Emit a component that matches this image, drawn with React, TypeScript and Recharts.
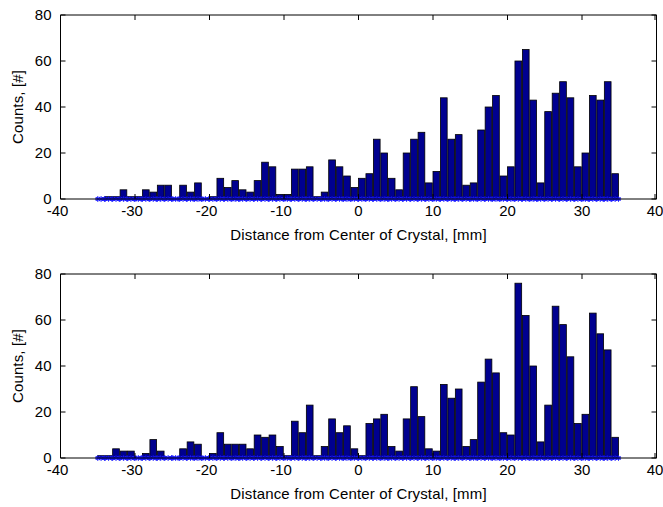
import { Bar, ComposedChart, ReferenceLine, XAxis, YAxis } from "recharts";

// bin centres, 1 mm bins from -35 to 35
const binCenters = [
  -34.5, -33.5, -32.5, -31.5, -30.5, -29.5, -28.5, -27.5, -26.5, -25.5,
  -24.5, -23.5, -22.5, -21.5, -20.5, -19.5, -18.5, -17.5, -16.5, -15.5,
  -14.5, -13.5, -12.5, -11.5, -10.5, -9.5, -8.5, -7.5, -6.5, -5.5,
  -4.5, -3.5, -2.5, -1.5, -0.5, 0.5, 1.5, 2.5, 3.5, 4.5,
  5.5, 6.5, 7.5, 8.5, 9.5, 10.5, 11.5, 12.5, 13.5, 14.5,
  15.5, 16.5, 17.5, 18.5, 19.5, 20.5, 21.5, 22.5, 23.5, 24.5,
  25.5, 26.5, 27.5, 28.5, 29.5, 30.5, 31.5, 32.5, 33.5, 34.5,
];

const countsTop = [
  0, 1, 1, 4, 1, 1, 4, 3, 6, 6,
  0, 6, 3, 7, 0, 1, 9, 5, 8, 4,
  3, 8, 16, 14, 2, 2, 13, 13, 14, 1,
  3, 17, 14, 10, 5, 9, 11, 26, 20, 9,
  4, 20, 26, 29, 7, 12, 44, 26, 28, 6,
  7, 30, 40, 45, 10, 14, 60, 65, 43, 7,
  38, 46, 51, 44, 14, 20, 45, 43, 51, 11,
];

const countsBottom = [
  1, 1, 4, 3, 3, 0, 2, 8, 3, 0,
  0, 4, 7, 6, 0, 2, 11, 6, 6, 6,
  4, 10, 9, 10, 5, 1, 16, 11, 23, 1,
  5, 17, 11, 14, 4, 1, 15, 17, 19, 5,
  3, 17, 31, 18, 4, 3, 32, 26, 30, 5,
  8, 33, 43, 37, 11, 10, 76, 62, 40, 7,
  23, 66, 58, 44, 15, 19, 63, 54, 47, 9,
];

const xTicks = [-40, -30, -20, -10, 0, 10, 20, 30, 40];
const yTicks = [0, 20, 40, 60, 80];

const FONT = "'Liberation Sans', Arial, Helvetica, sans-serif";
const PLOT_W = 596;
const PLOT_H = 184;
const TICK_LEN = 5;
const BAR_FILL = "#00008f";
const STAR_COLOR = "#1a1aff";

// x tick: label below, plus MATLAB-style inward tick marks at bottom and top
const XTick = (props: any) => {
  const { x, y, payload } = props;
  const v = payload.value;
  const axisY = y - 6;
  const shift = v < 0 ? -3 : 0;
  return (
    <g>
      <line x1={x} y1={axisY} x2={x} y2={axisY - TICK_LEN} stroke="#000" />
      <line x1={x} y1={axisY - PLOT_H} x2={x} y2={axisY - PLOT_H + TICK_LEN} stroke="#000" />
      <text
        x={x + shift}
        y={y}
        dy="0.71em"
        textAnchor="middle"
        fill="#000"
        fontSize={15}
        fontFamily={FONT}
      >
        {v}
      </text>
    </g>
  );
};

const YTick = (props: any) => {
  const { x, y, payload } = props;
  const axisX = x + 9;
  return (
    <g>
      <line x1={axisX} y1={y} x2={axisX + TICK_LEN} y2={y} stroke="#000" />
      <line x1={axisX + PLOT_W} y1={y} x2={axisX + PLOT_W - TICK_LEN} y2={y} stroke="#000" />
      <text
        x={x}
        y={y}
        dy="0.355em"
        textAnchor="end"
        fill="#000"
        fontSize={15}
        fontFamily={FONT}
      >
        {payload.value}
      </text>
    </g>
  );
};

const star = (cx: number, cy: number, key: string) => {
  const r = 2.6;
  const d = 1.9;
  return (
    <g key={key} stroke={STAR_COLOR} strokeWidth={0.9}>
      <line x1={cx - r} y1={cy} x2={cx + r} y2={cy} />
      <line x1={cx} y1={cy - r} x2={cx} y2={cy + r} />
      <line x1={cx - d} y1={cy - d} x2={cx + d} y2={cy + d} />
      <line x1={cx - d} y1={cy + d} x2={cx + d} y2={cy - d} />
    </g>
  );
};

// bar + '*' markers on the zero line at the bin's edges and centre
const HistBar = (props: any) => {
  const { x, y, width, height } = props;
  if (x == null || width == null) return <g />;
  const h = height ?? 0;
  const base = (y ?? 0) + h;
  return (
    <g>
      {h > 0 && (
        <rect
          x={x}
          y={y}
          width={width}
          height={h}
          fill={BAR_FILL}
          stroke="#000"
          strokeWidth={0.8}
        />
      )}
      {star(x, base, "l")}
      {star(x + width / 2, base, "c")}
      {star(x + width, base, "r")}
    </g>
  );
};

// background column: only used to put markers under empty bins as well
const StarBackground = (props: any) => {
  const { x, y, width, height } = props;
  if (x == null || width == null) return <g />;
  const base = (y ?? 0) + (height ?? 0);
  return (
    <g>
      {star(x, base, "l")}
      {star(x + width / 2, base, "c")}
      {star(x + width, base, "r")}
    </g>
  );
};

const YLabel = (props: any) => {
  const vb = props.viewBox || { y: 15, height: PLOT_H };
  const cx = 17.7;
  const cy = vb.y + vb.height / 2;
  return (
    <text
      x={cx}
      y={cy}
      dy="0.35em"
      transform={`rotate(-90 ${cx} ${cy})`}
      textAnchor="middle"
      fill="#000"
      fontSize={15}
      letterSpacing={0.15}
      fontFamily={FONT}
    >
      Counts, [#]
    </text>
  );
};

function Histogram({ counts }: { counts: number[] }) {
  const data = binCenters.map((x, i) => ({ x, count: counts[i] }));
  return (
    <ComposedChart
      width={663}
      height={248}
      data={data}
      margin={{ top: 15, right: 6.5, bottom: 0, left: 0 }}
    >
      <XAxis
        xAxisId="x"
        dataKey="x"
        type="number"
        domain={[-40, 40]}
        ticks={xTicks}
        height={49}
        stroke="#000"
        tickLine={false}
        tickSize={0}
        tickMargin={6}
        tick={<XTick />}
        label={{
          value: "Distance from Center of Crystal, [mm]",
          position: "insideBottom",
          offset: 8,
          fill: "#000",
          fontSize: 15,
          letterSpacing: 0.15,
          fontFamily: FONT,
        }}
      />
      <YAxis
        yAxisId="y"
        type="number"
        domain={[0, 80]}
        ticks={yTicks}
        width={60.5}
        stroke="#000"
        tickLine={false}
        tickSize={0}
        tickMargin={9}
        tick={<YTick />}
        label={<YLabel />}
      />
      <ReferenceLine xAxisId="x" yAxisId="y" y={80} stroke="#000" strokeWidth={1} />
      <ReferenceLine xAxisId="x" yAxisId="y" x={40} stroke="#000" strokeWidth={1} />
      <Bar
        xAxisId="x"
        yAxisId="y"
        dataKey="count"
        barSize={7.45}
        shape={<HistBar />}
        background={<StarBackground />}
        isAnimationActive={false}
      />
    </ComposedChart>
  );
}

export default function App() {
  return (
    <div
      style={{
        position: "absolute",
        left: 0,
        top: 0,
        width: 663,
        height: 507,
        overflow: "hidden",
        background: "#fff",
      }}
    >
      <div style={{ position: "absolute", left: 0, top: 0 }}>
        <Histogram counts={countsTop} />
      </div>
      <div style={{ position: "absolute", left: 0, top: 259 }}>
        <Histogram counts={countsBottom} />
      </div>
    </div>
  );
}
